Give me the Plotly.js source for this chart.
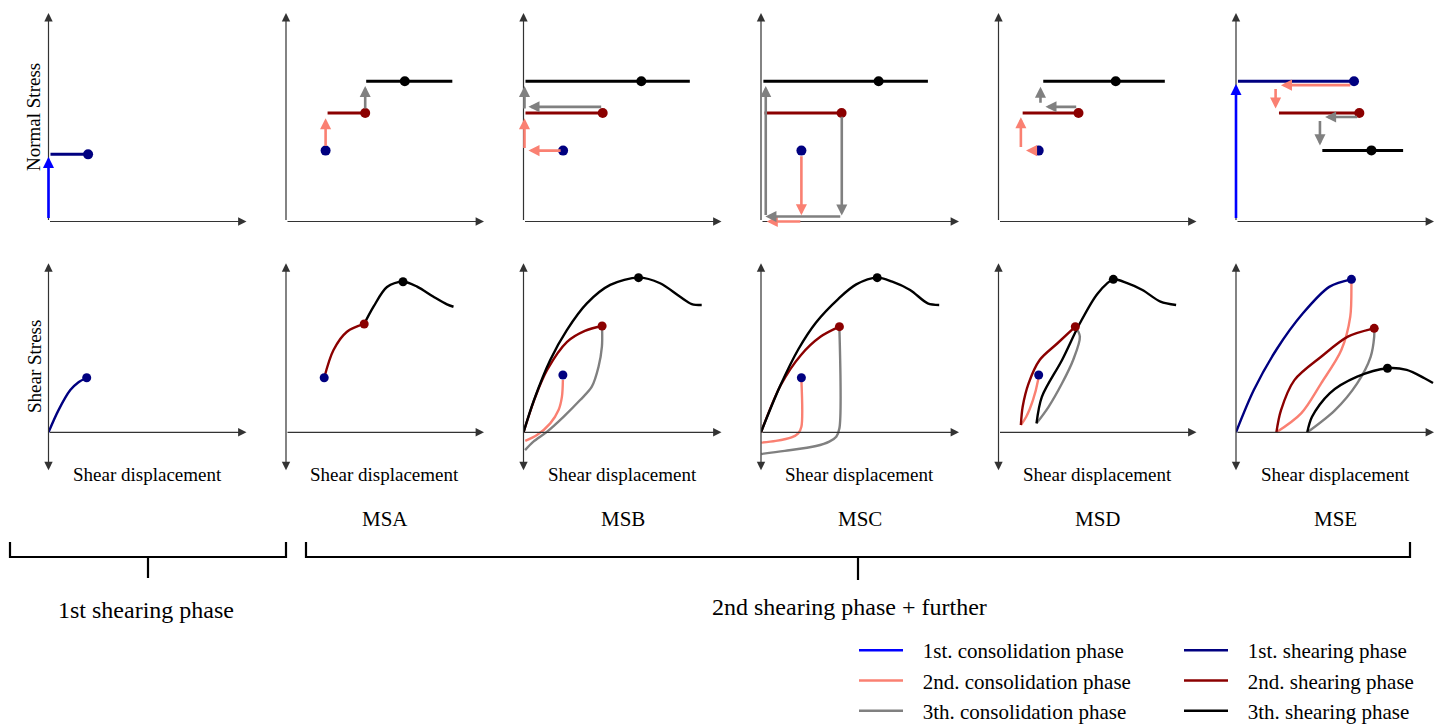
<!DOCTYPE html>
<html><head><meta charset="utf-8">
<script src="https://cdn.plot.ly/plotly-3.0.1.min.js"></script>
<style>html,body{margin:0;padding:0;background:#fff;overflow:hidden}#chart{width:1443px;height:725px}</style>
</head><body><div id="chart"></div>
<script>
// ---------------- labels ----------------
const columnLabels = ['', 'MSA', 'MSB', 'MSC', 'MSD', 'MSE'];
const groupLabels = ['1st shearing phase', '2nd shearing phase + further'];
const yTitleTop = 'Normal Stress';
const yTitleBottom = 'Shear Stress';
const xTitle = 'Shear displacement';
const phaseNames = ['1st. consolidation phase', '2nd. consolidation phase', '3th. consolidation phase',
                    '1st. shearing phase', '2nd. shearing phase', '3th. shearing phase'];
const phaseColors = ['#0000ff', '#fa8072', '#808080', '#000080', '#8b0000', '#000000'];

// ---------------- top row: normal stress vs shear displacement (schematic units) ----------------
// shearing stages (normal stress constant): [xStart, xEnd, normalStress, xDot], one per panel (null = none)
const topShear1 = [[0.1, 2.0, 3.22, 2.0], [2.0, 2.0, 3.4, 2.0], [2.0, 2.0, 3.4, 2.0], [2.04, 2.04, 3.4, 2.04], [2.03, 2.03, 3.4, 2.03], [0.1, 5.96, 6.73, 5.96]];
const topShear2 = [null, [2.1, 4.0, 5.2, 4.0], [0.1, 4.0, 5.2, 4.0], [0.18, 4.07, 5.2, 4.07], [1.22, 4.04, 5.2, 4.04], [2.17, 6.23, 5.2, 6.23]];
const topShear3 = [null, [4.05, 8.4, 6.73, 6.0], [0.1, 8.4, 6.73, 5.95], [0.12, 8.43, 6.73, 5.94], [2.26, 8.4, 6.73, 5.92], [4.36, 8.44, 3.41, 6.84]];
// consolidation stages (arrows): [panel, xFrom, yFrom, xTo, yTo]
const topCons1 = [[0, 0, 0.1, 0, 3.1], [5, 0, 0.1, 0, 6.6]];
const topCons2 = [[1, 2.0, 3.55, 2.0, 4.95], [2, 1.95, 3.4, 0.25, 3.4], [2, 0.05, 3.45, 0.05, 4.95],
                  [3, 2.04, 3.2, 2.04, 0.3], [3, 2.06, 0.0, 0.29, 0.0], [3, -0.02, 0.0, -0.02, 5.25],
                  [4, 1.9, 3.4, 1.39, 3.4], [4, 1.13, 3.5, 1.13, 5.0],
                  [5, 5.85, 6.54, 2.27, 6.54], [5, 2.0, 6.43, 2.0, 5.42]];
const topCons3 = [[1, 4.0, 5.35, 4.0, 6.5], [2, 4.0, 5.5, 0.25, 5.5], [2, 0.05, 5.35, 0.05, 6.5],
                  [3, 4.08, 5.1, 4.08, 0.29], [3, 4.08, 0.24, 0.22, 0.24], [3, 0.24, 0.24, 0.24, 6.5],
                  [4, 4.0, 5.5, 2.37, 5.5], [4, 2.12, 5.62, 2.12, 6.46],
                  [5, 6.19, 5.01, 4.5, 5.01], [5, 4.24, 4.89, 4.24, 3.65]];

// ---------------- bottom row: shear stress vs shear displacement ----------------
const botShear1X = [[0, 0.5, 1.1, 1.5, 1.93], null, null, null, null, [0, 0.9, 2.03, 3.38, 4.73, 5.83]];
const botShear1Y = [[0, 1.3, 2.5, 2.95, 3.23], null, null, null, null, [0, 2.5, 4.87, 7.04, 8.62, 9.05]];
const botCons2X = [null, null, [1.99, 1.94, 1.77, 1.35, 0.68, 0.09], [2.04, 2.04, 1.88, 1.54, 0.75, 0.02], [2.03, 2.0, 1.74, 1.4, 1.13], [5.83, 5.83, 5.77, 5.32, 4.3, 3.29, 2.04]];
const botCons2Y = [null, null, [3.1, 2.1, 1.32, 0.53, -0.16, -0.5], [3.1, 0.33, -0.06, -0.3, -0.51, -0.61], [3.39, 3.1, 1.91, 0.92, 0.43], [9.05, 8.82, 6.84, 4.87, 2.9, 1.12, 0]];
const botShear2X = [null, [1.93, 2.4, 3.08, 3.95], [0, 0.6, 1.2, 2.2, 3.1, 3.97], [0, 1.0, 2.0, 3.0, 3.96], [1.13, 1.22, 1.52, 2.08, 2.98, 3.88], [2.04, 2.27, 2.95, 4.3, 5.65, 6.98]];
const botShear2Y = [null, [3.23, 4.87, 5.95, 6.41], [0, 2.1, 3.7, 5.35, 6.0, 6.29], [0, 2.8, 4.55, 5.65, 6.25], [0.43, 1.51, 2.9, 4.28, 5.27, 6.25], [0, 1.3, 3.09, 4.47, 5.66, 6.15]];
const botCons3X = [null, null, [3.97, 3.96, 3.79, 3.45, 2.86, 2.02, 1.18, 0.5, 0.08], [3.96, 3.96, 3.8, 3.45, 2.78, 1.2, 0.02], [3.88, 4.11, 3.77, 3.21, 2.53, 1.92], [6.98, 6.98, 6.8, 6.12, 4.99, 3.6]];
const botCons3Y = [null, null, [6.1, 5.07, 3.88, 2.7, 1.91, 0.92, 0.03, -0.55, -1.05], [6.1, 0.24, -0.26, -0.55, -0.81, -1.1, -1.28], [6.25, 5.66, 4.28, 2.9, 1.51, 0.53], [6.15, 5.66, 4.47, 2.9, 1.3, 0]];
const botShear3X = [null, [3.95, 4.42, 5.1, 5.91, 6.62, 7.45, 8.13, 8.46], [0, 0.51, 1.35, 2.19, 3.2, 4.38, 5.81, 6.9, 7.91, 8.5, 9.0], [0, 0.97, 1.88, 2.78, 3.91, 4.81, 5.87, 6.63, 7.53, 8.42, 9.0], [1.92, 2.19, 3.21, 4.11, 5.01, 5.8, 6.5, 7.27, 8.18, 8.97], [3.6, 3.84, 4.73, 6.12, 7.65, 8.62, 9.52, 9.95]];
const botShear3Y = [null, [6.41, 7.43, 8.6, 8.91, 8.62, 8.02, 7.57, 7.43], [0, 1.85, 4.28, 6.05, 7.63, 8.72, 9.15, 8.82, 8.02, 7.59, 7.53], [0, 2.75, 4.9, 6.5, 7.9, 8.75, 9.15, 8.91, 8.42, 7.63, 7.53], [0.53, 2.1, 4.28, 6.45, 8.22, 9.05, 8.82, 8.42, 7.73, 7.53], [0, 0.92, 2.31, 3.29, 3.79, 3.69, 3.2, 2.92]];
// end-of-stage markers: [x, y]
const botShear1Dot = [[1.93, 3.23], [1.93, 3.23], [1.99, 3.39], [2.04, 3.23], [2.03, 3.39], [5.83, 9.05]];
const botShear2Dot = [null, [3.95, 6.41], [3.97, 6.29], [3.96, 6.25], [3.88, 6.25], [6.98, 6.15]];
const botShear3Dot = [null, [5.91, 8.91], [5.81, 9.15], [5.87, 9.15], [5.8, 9.05], [7.65, 3.79]];

// ---------------- layout geometry ----------------
const W = 1443, H = 725;
const FONT = 'Liberation Serif, Times New Roman, serif';
const colLeft = [48.5, 286, 523.5, 761, 998.5, 1236];
const plotW = 198;
const topPx = [13, 221.5], botPx = [263.3, 471.7];
const topRange = [0, 10], botRange = [-2.33, 10];
const fx = p => p / W, fy = p => 1 - p / H;
const axId = (k, a) => a + (k === 1 ? '' : k);
const legendFont = {family: FONT, size: 21, color: '#000'};

const layout = {
  width: W, height: H, margin: {l: 0, r: 0, t: 0, b: 0, autoexpand: false},
  paper_bgcolor: '#fff', plot_bgcolor: 'rgba(0,0,0,0)',
  showlegend: true, annotations: [], shapes: [],
  font: {family: FONT, color: '#000'},
  legend: {x: fx(854), y: fy(630), xanchor: 'left', yanchor: 'top', bgcolor: 'rgba(0,0,0,0)',
           font: legendFont, itemwidth: 44, tracegroupgap: 0},
  legend2: {x: fx(1179), y: fy(630), xanchor: 'left', yanchor: 'top', bgcolor: 'rgba(0,0,0,0)',
            font: legendFont, itemwidth: 44, tracegroupgap: 0}
};
const data = [];

// schematic axes with arrow heads
for (let r = 0; r < 2; r++) {
  for (let c = 0; c < 6; c++) {
    const k = r * 6 + c + 1;
    const px = r === 0 ? topPx : botPx;
    layout[axId(k, 'xaxis')] = {domain: [fx(colLeft[c]), fx(colLeft[c] + plotW)], range: [0, 10], visible: false, fixedrange: true, anchor: axId(k, 'y')};
    layout[axId(k, 'yaxis')] = {domain: [fy(px[1]), fy(px[0])], range: r === 0 ? topRange : botRange, visible: false, fixedrange: true, anchor: axId(k, 'x')};
    const xr = axId(k, 'x'), yr = axId(k, 'y');
    const base = {xref: xr, yref: yr, axref: xr, ayref: yr, text: '', showarrow: true, arrowhead: 2,
                  arrowsize: 1.4, arrowwidth: 1.2, arrowcolor: '#333', standoff: 0, startstandoff: 0};
    layout.annotations.push(Object.assign({}, base, {x: 10, y: 0, ax: 0, ay: 0}));
    if (r === 0) layout.annotations.push(Object.assign({}, base, {x: 0, y: 10, ax: 0, ay: 0}));
    else layout.annotations.push(Object.assign({}, base, {x: 0, y: 10, ax: 0, ay: botRange[0], arrowside: 'end+start'}));
  }
}

// ---- top row
function addTopShear(arr, phase) {
  arr.forEach((s, p) => {
    if (!s) return;
    const xr = axId(p + 1, 'x'), yr = axId(p + 1, 'y');
    if (s[1] > s[0]) data.push({x: [s[0], s[1]], y: [s[2], s[2]], xaxis: xr, yaxis: yr, mode: 'lines', showlegend: false,
      line: {color: phaseColors[phase], width: 3}, hoverinfo: 'skip', cliponaxis: false});
    data.push({x: [s[3]], y: [s[2]], xaxis: xr, yaxis: yr, mode: 'markers', showlegend: false,
      marker: {color: phaseColors[phase], size: 10}, hoverinfo: 'skip', cliponaxis: false});
  });
}
function addTopCons(arr, phase) {
  arr.forEach(a => {
    const xr = axId(a[0] + 1, 'x'), yr = axId(a[0] + 1, 'y');
    layout.annotations.push({xref: xr, yref: yr, axref: xr, ayref: yr, x: a[3], y: a[4], ax: a[1], ay: a[2],
      text: '', showarrow: true, arrowhead: 2, arrowsize: 0.85, arrowwidth: 2.6, arrowcolor: phaseColors[phase], standoff: 0, startstandoff: 0});
  });
}
addTopShear(topShear1, 3);
addTopShear(topShear2, 4);
addTopShear(topShear3, 5);
addTopCons(topCons1, 0);
addTopCons(topCons2, 1);
addTopCons(topCons3, 2);

// ---- bottom row
function addCurves(X, Y, phase) {
  X.forEach((xs, p) => {
    if (!xs) return;
    data.push({x: xs, y: Y[p], xaxis: axId(p + 7, 'x'), yaxis: axId(p + 7, 'y'), mode: 'lines', showlegend: false,
      line: {color: phaseColors[phase], width: 2.4, shape: 'spline', smoothing: 0.9}, hoverinfo: 'skip', cliponaxis: false});
  });
}
function addDots(D, phase) {
  D.forEach((d, p) => {
    if (!d) return;
    data.push({x: [d[0]], y: [d[1]], xaxis: axId(p + 7, 'x'), yaxis: axId(p + 7, 'y'), mode: 'markers', showlegend: false,
      marker: {color: phaseColors[phase], size: 9}, hoverinfo: 'skip', cliponaxis: false});
  });
}
addCurves(botShear1X, botShear1Y, 3);
addCurves(botCons2X, botCons2Y, 1);
addCurves(botShear2X, botShear2Y, 4);
addCurves(botCons3X, botCons3Y, 2);
addCurves(botShear3X, botShear3Y, 5);
addDots(botShear1Dot, 3);
addDots(botShear2Dot, 4);
addDots(botShear3Dot, 5);

// ---- legend entries
phaseNames.forEach((n, i) => {
  data.push({x: [null], y: [null], mode: 'lines', name: '\u00a0\u00a0\u2009' + n, line: {color: phaseColors[i], width: 2.5},
    legend: i < 3 ? 'legend' : 'legend2', hoverinfo: 'skip'});
});

// ---- text
const txt = (x, y, t, size, extra) => layout.annotations.push(Object.assign({xref: 'paper', yref: 'paper', x: fx(x), y: fy(y),
  text: t, showarrow: false, xanchor: 'center', yanchor: 'middle', font: {family: FONT, size: size, color: '#000'}}, extra || {}));
txt(34, 117, yTitleTop, 19, {textangle: -90});
txt(34, 367, yTitleBottom, 19, {textangle: -90});
colLeft.forEach((x0, c) => {
  txt(x0 + 99, 474, xTitle, 19);
  if (columnLabels[c]) txt(x0 + 99, 519, columnLabels[c], 21);
});
txt(146, 610, groupLabels[0], 24);
txt(849, 607, groupLabels[1], 24);

// ---- brackets
const P = (x, y) => fx(x) + ',' + fy(y);
const bracketStyle = {type: 'path', xref: 'paper', yref: 'paper', line: {color: '#000', width: 2.2}};
layout.shapes.push(Object.assign({}, bracketStyle, {path: 'M' + P(10, 542) + 'L' + P(10, 557) + 'L' + P(286, 557) + 'L' + P(286, 542)}));
layout.shapes.push(Object.assign({}, bracketStyle, {path: 'M' + P(148, 557) + 'L' + P(148, 578)}));
layout.shapes.push(Object.assign({}, bracketStyle, {path: 'M' + P(306, 542) + 'L' + P(306, 557) + 'L' + P(1410, 557) + 'L' + P(1410, 542)}));
layout.shapes.push(Object.assign({}, bracketStyle, {path: 'M' + P(858, 557) + 'L' + P(858, 580)}));

Plotly.newPlot('chart', data, layout, {staticPlot: true, displayModeBar: false});
</script></body></html>
